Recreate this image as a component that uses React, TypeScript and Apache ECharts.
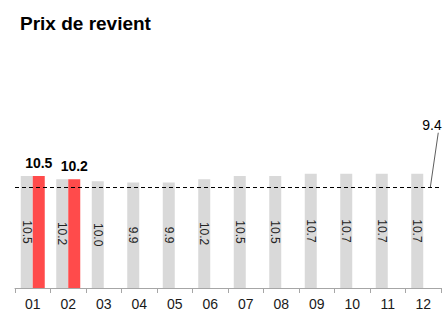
import React, { useEffect, useRef } from "react";
import * as echarts from "echarts";

const months = ["01", "02", "03", "04", "05", "06", "07", "08", "09", "10", "11", "12"];
const planValues = [10.5, 10.2, 10.0, 9.9, 9.9, 10.2, 10.5, 10.5, 10.7, 10.7, 10.7, 10.7];
const actualValues: (number | null)[] = [10.5, 10.2, null, null, null, null, null, null, null, null, null, null];
const referenceValue = 9.4;
const titleText = "Prix de revient";

const FONT = "Arial, 'Liberation Sans', Helvetica, sans-serif";

export default function App() {
  const ref = useRef<HTMLDivElement>(null);
  useEffect(() => {
    if (!ref.current) return;
    const chart = echarts.init(ref.current, undefined, { renderer: "svg" });
    chart.setOption({
      animation: false,
      textStyle: { fontFamily: FONT },
      title: {
        text: titleText,
        left: 15,
        top: 9,
        textStyle: { fontSize: 19, fontWeight: "bold", color: "#000", fontFamily: FONT },
      },
      grid: { left: 15, right: 2, top: 128, bottom: 23 },
      xAxis: {
        type: "category",
        data: months,
        axisLine: { lineStyle: { color: "#a6a6a6" } },
        axisTick: { show: true, length: 5, lineStyle: { color: "#a6a6a6" } },
        axisLabel: { color: "#1a1a1a", fontSize: 14, margin: 9, fontFamily: FONT },
      },
      yAxis: { type: "value", min: 0, max: 15, show: false },
      series: [
        {
          type: "bar",
          data: planValues,
          barWidth: 12,
          barGap: "0%",
          itemStyle: { color: "#d9d9d9" },
          label: {
            show: true,
            position: "inside",
            rotate: -90,
            fontSize: 12,
            color: "#222",
            fontFamily: FONT,
            formatter: (p: any) => Number(p.value).toFixed(1),
          },
          markLine: {
            silent: true,
            symbol: "none",
            label: { show: false },
            lineStyle: { type: [4, 3], color: "#000", width: 1 },
            data: [{ yAxis: referenceValue }],
          },
        },
        {
          type: "bar",
          data: actualValues,
          barWidth: 12,
          barGap: "0%",
          itemStyle: { color: "#ff4b4b" },
          label: {
            show: true,
            position: "top",
            distance: 6,
            fontSize: 14,
            fontWeight: "bold",
            color: "#000",
            fontFamily: FONT,
            formatter: (p: any) => Number(p.value).toFixed(1),
          },
        },
      ],
    });
    const py = chart.convertToPixel({ yAxisIndex: 0 }, referenceValue) as number;
    const px = chart.convertToPixel({ xAxisIndex: 0 }, months[months.length - 1]) as number;
    chart.setOption({
      graphic: [
        {
          type: "line",
          shape: { x1: px + 7, y1: py, x2: px + 15, y2: py - 55 },
          style: { stroke: "#333", lineWidth: 0.8 },
        },
        {
          type: "text",
          x: px - 1,
          y: py - 70,
          style: { text: referenceValue.toFixed(1), fontSize: 14, fill: "#000", fontFamily: FONT },
        },
      ],
    });
    return () => chart.dispose();
  }, []);
  return <div ref={ref} style={{ width: 443, height: 311, position: "absolute", left: 0, top: 0 }} />;
}
